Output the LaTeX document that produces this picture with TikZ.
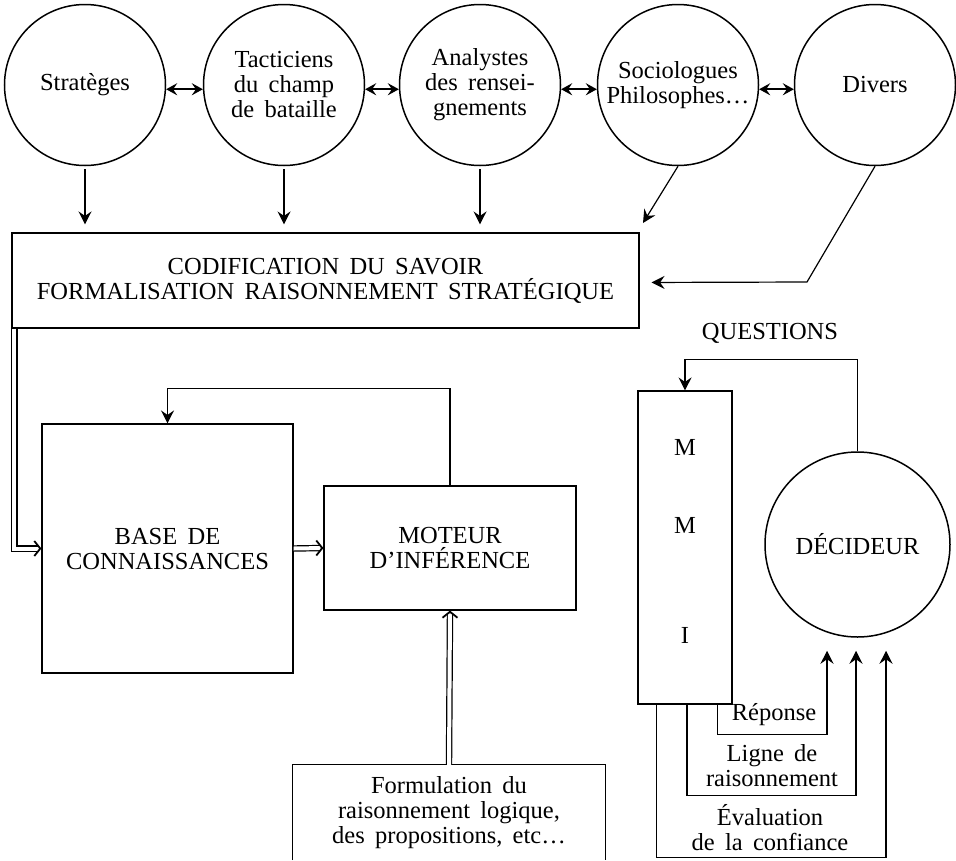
\documentclass[tikz,border=0pt]{standalone}
\usepackage{fontspec}
\setmainfont{Liberation Serif}
\usetikzlibrary{arrows.meta}
\newcommand\diagfont{\fontsize{24.5}{25}\selectfont\spaceskip 0.42em plus 0.1em\relax}
\tikzset{
  txt/.style={font=\diagfont, align=center, inner sep=0pt},
  circ/.style={txt, circle, draw, line width=1.5pt, minimum size=161pt},
  box/.style={txt, rectangle, draw, line width=1.1pt},
  arr/.style={line width=1.2pt, -{Stealth[length=13pt,width=13pt,inset=4.5pt]}},
  biarr/.style={line width=1.8pt, {Stealth[length=11pt,width=12pt,inset=4pt]}-{Stealth[length=11pt,width=12pt,inset=4pt]}},
  dbl/.style={line width=1.2pt, double, double distance=4pt, shorten >=3pt},
  dbltip/.style={line width=1.8pt, -{Straight Barb[length=6pt,width=15pt]}},
}
\begin{document}
\begin{tikzpicture}[x=1pt,y=-1pt]
\useasboundingbox (0,0) rectangle (956,860);
% top circles
\node[circ] (s)  at (85,85)  {Stratèges};
\node[circ] (t)  at (284,85) {Tacticiens\\du champ\\de bataille};
\node[circ] (a)  at (480,85) {Analystes\\des rensei-\\gnements};
\node[circ] (so) at (678,85) {Sociologues\\Philosophes…};
\node[circ] (d)  at (875,85) {Divers};
\draw[biarr] (s.-3) -- (t.183);
\draw[biarr] (t.-3) -- (a.183);
\draw[biarr] (a.-3) -- (so.183);
\draw[biarr] (so.-3) -- (d.183);
% codification box
\node[box, minimum width=627pt, minimum height=95pt] (cod) at (325.5,280.5)
  {CODIFICATION DU SAVOIR\\FORMALISATION RAISONNEMENT STRATÉGIQUE};
\draw[arr, shorten <=3pt, shorten >=8pt] (s.south) -- (s.south |- cod.north);
\draw[arr, shorten <=3pt, shorten >=8pt] (t.south) -- (t.south |- cod.north);
\draw[arr, shorten <=3pt, shorten >=8pt] (a.south) -- (a.south |- cod.north);
\coordinate (soend) at (643,223);
\draw[arr] (so.south) -- (soend);
\coordinate (dbend) at (807,282);
\draw[arr, shorten >=12pt] (d.south) -- (dbend) -- ([yshift=-2pt]cod.east);
% knowledge base and inference engine
\node[box, minimum width=251pt, minimum height=249pt] (bas) at (167.5,548.5) {BASE DE\\CONNAISSANCES};
\node[box, minimum width=252pt, minimum height=124pt] (mot) at (450,548) {MOTEUR\\D’INFÉRENCE};
\draw[arr] (mot.north) -- ++(0,-97) -| (bas.north);
\draw[dbl] ([xshift=3pt]cod.south west) |- (bas.west);
\draw[dbltip] ([xshift=-1pt]bas.west) -- (bas.west);
\draw[dbl] (bas.east) -- (mot.west);
\draw[dbltip] ([xshift=-1pt]mot.west) -- (mot.west);
% formulation box (open at the bottom)
\node[txt, minimum width=312pt, minimum height=95pt] (form) at (449,812.5)
  {Formulation du\\raisonnement logique,\\des propositions, etc…};
\draw[line width=1.1pt] (form.south west) -- (form.north west) -- (form.north east) -- (form.south east);
\draw[dbl] (form.north) -- (mot.south);
\draw[dbltip] ([yshift=-1pt]mot.south) -- (mot.south);
% MMI and decision maker
\node[box, minimum width=94pt, minimum height=313pt] (mmi) at (685,547.5) {};
\node[txt] (m1) at (685,447) {M};
\node[txt] (m2) at (685,525) {M};
\node[txt] (m3) at (685,635) {I};
\node[circ, minimum size=185pt] (dec) at (857.5,544.5) {DÉCIDEUR};
\node[txt] (q) at (770,333) {QUESTIONS};
\draw[arr] (dec.north) -- ++(0,-92) -| (mmi.north);
\draw[arr, shorten >=13pt] ([xshift=-15pt]mmi.south east) -- ++(0,30) -| ([xshift=-30.5pt]dec.south);
\draw[arr, shorten >=13pt] ([xshift=2pt]mmi.south) -- ++(0,91) -| ([xshift=-1.5pt]dec.south);
\draw[arr, shorten >=13pt] ([xshift=19pt]mmi.south west) -- ++(0,153) -| ([xshift=28.5pt]dec.south);
\node[txt] (rep) at (774,715) {Réponse};
\node[txt] (lig) at (772,766) {Ligne de\\raisonnement};
\node[txt] (eva) at (770,828) {Évaluation\\de la confiance};
\end{tikzpicture}
\end{document}
